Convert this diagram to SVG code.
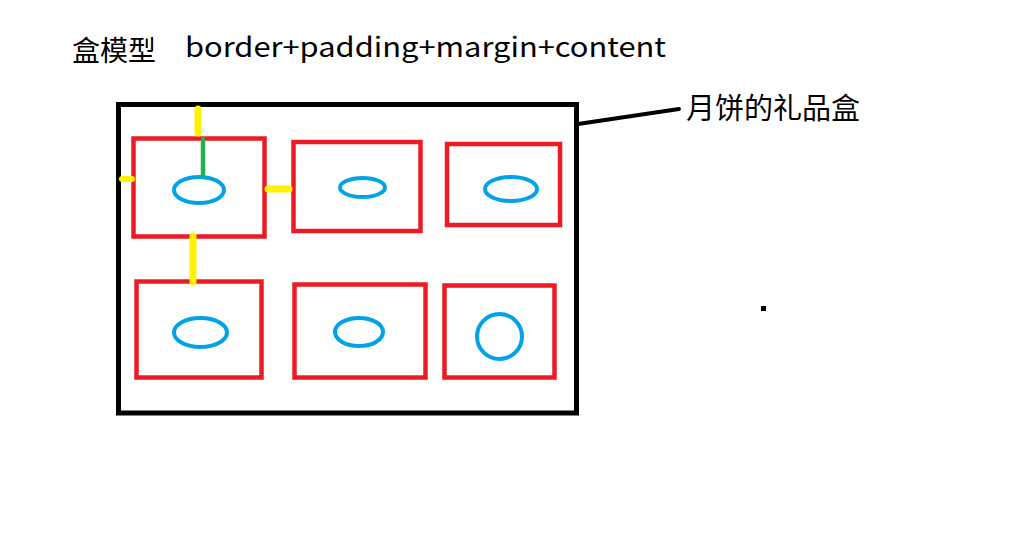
<svg xmlns="http://www.w3.org/2000/svg" width="1018" height="549" viewBox="0 0 1018 549">
<style>
.txt{font-family:"Noto Sans CJK SC","Noto Sans",sans-serif;fill:#000}
.box{fill:none;stroke:#ED1C24;stroke-width:4.5}
.cnt{fill:none;stroke:#00A2E8;stroke-width:4}
.yl{stroke:#FFF200;stroke-linecap:round;fill:none}
</style>
<rect width="1018" height="549" fill="#fff"/>
<g id="title">
<text class="txt" x="72" y="61" font-size="28">盒模型</text>
<text class="txt" x="185" y="57" font-size="27" textLength="481" lengthAdjust="spacingAndGlyphs">border+padding+margin+content</text>
</g>
<g id="giftbox">
<rect x="118.5" y="104.5" width="458" height="308.5" fill="none" stroke="#000" stroke-width="5"/>
</g>
<g id="label">
<text class="txt" x="686" y="119" font-size="29">月饼的礼品盒</text>
</g>
<g id="box1">
<rect class="box" x="133.5" y="138.5" width="131" height="98"/>
<ellipse class="cnt" cx="199" cy="190" rx="25" ry="13"/>
</g>
<g id="box2">
<rect class="box" x="293.5" y="142" width="127" height="89"/>
<ellipse class="cnt" cx="362.5" cy="187.5" rx="22.5" ry="9.5"/>
</g>
<g id="box3">
<rect class="box" x="447" y="144" width="113" height="81"/>
<ellipse class="cnt" cx="511" cy="189" rx="26" ry="12"/>
</g>
<g id="box4">
<rect class="box" x="136.5" y="281.5" width="125" height="96"/>
<ellipse class="cnt" cx="200.5" cy="332.5" rx="26.5" ry="14.5"/>
</g>
<g id="box5">
<rect class="box" x="294.5" y="284.5" width="131" height="93"/>
<ellipse class="cnt" cx="359" cy="332" rx="24" ry="14"/>
</g>
<g id="box6">
<rect class="box" x="444.5" y="285.5" width="110" height="92"/>
<ellipse class="cnt" cx="499.5" cy="336.5" rx="22.5" ry="22.5"/>
</g>
<g id="dot">
<rect x="761" y="306" width="5" height="5" fill="#000"/>
</g>
<g id="connectors">
<line x1="578" y1="124" x2="679" y2="109" stroke="#000" stroke-width="4" stroke-linecap="round"/>
<line class="yl" x1="198" y1="109" x2="198" y2="133" stroke-width="7"/>
<line class="yl" x1="122" y1="179" x2="132" y2="179" stroke-width="6"/>
<line class="yl" x1="268" y1="189" x2="289" y2="189" stroke-width="7"/>
<line class="yl" x1="193" y1="236" x2="193" y2="282" stroke-width="7"/>
<line x1="203" y1="139" x2="203" y2="175" stroke="#22B14C" stroke-width="4.5" stroke-linecap="round"/>
</g>
</svg>
